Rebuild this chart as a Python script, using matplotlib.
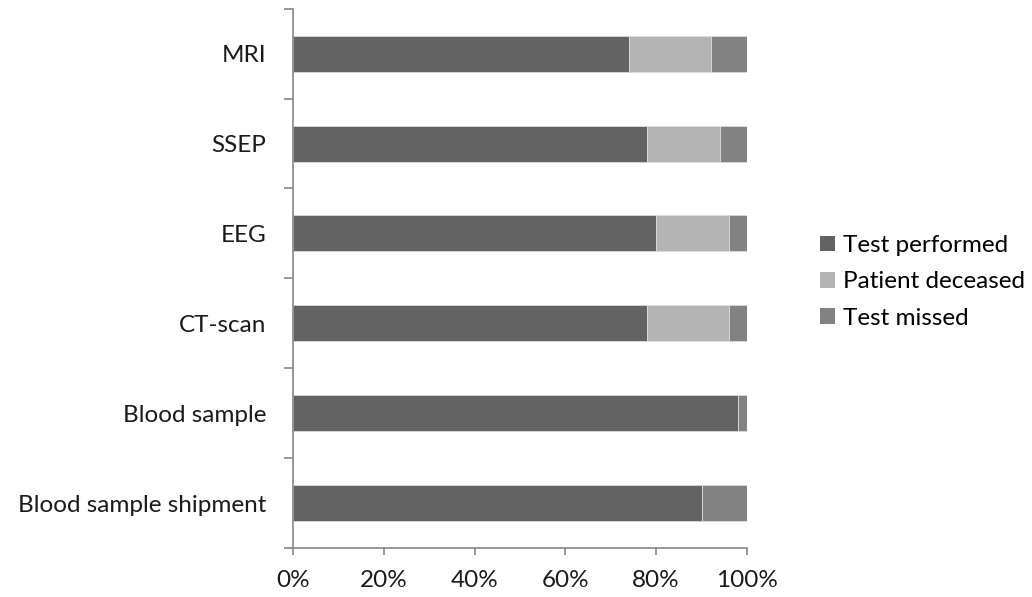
import matplotlib
matplotlib.use("Agg")
import matplotlib.pyplot as plt
import numpy as np
from matplotlib.ticker import PercentFormatter

# percentages per test, top to bottom
categories = ["MRI", "SSEP", "EEG", "CT-scan", "Blood sample", "Blood sample shipment"]
performed = [74, 78, 80, 78, 98, 90]
deceased = [18, 16, 16, 18, 0, 0]
missed = [8, 6, 4, 4, 2, 10]
series_names = ["Test performed", "Patient deceased", "Test missed"]
colors = ["#636363", "#b4b4b4", "#828282"]

plt.rcParams['font.family'] = ['Lato', 'DejaVu Sans']
fs = 17.5

fig = plt.figure(figsize=(10.32, 5.97), dpi=100)
ax = fig.add_axes([0.2839, 0.082, 0.4399, 0.9034])

y = np.arange(len(categories))[::-1]
left = np.zeros(len(categories))
for vals, name, col in zip([performed, deceased, missed], series_names, colors):
    ax.barh(y, vals, left=left, height=0.4, color=col, label=name,
            edgecolor="#dcdcdc", linewidth=0.6)
    left += np.array(vals)

ax.set_xlim(0, 100)
ax.set_ylim(-0.5, len(categories) - 0.5)
ax.set_xticks(np.arange(0, 101, 20))
ax.xaxis.set_major_formatter(PercentFormatter(decimals=0))
ax.set_yticks(y)
ax.set_yticklabels(categories)
ax.set_yticks(np.arange(-0.5, len(categories)), minor=True)

for s in ["top", "right"]:
    ax.spines[s].set_visible(False)
for s in ["left", "bottom"]:
    ax.spines[s].set_color("#868686")
    ax.spines[s].set_linewidth(1.2)

ax.tick_params(axis="y", which="major", length=0, pad=19, labelsize=fs, labelcolor="#1a1a1a")
ax.tick_params(axis="y", which="minor", length=6.5, width=1.2, color="#868686")
ax.tick_params(axis="x", length=5, width=1.2, color="#868686", pad=11, labelsize=fs,
               labelcolor="#1a1a1a")

handles, labels = ax.get_legend_handles_labels()
leg = fig.legend(handles, labels, loc="center left", bbox_to_anchor=(0.785, 0.528),
                 frameon=False, fontsize=fs, handlelength=0.62, handleheight=0.62,
                 handletextpad=0.35, labelspacing=0.63, borderaxespad=0)
for h in leg.legend_handles:
    h.set_edgecolor("none")

fig.savefig("out.png", dpi=100)
